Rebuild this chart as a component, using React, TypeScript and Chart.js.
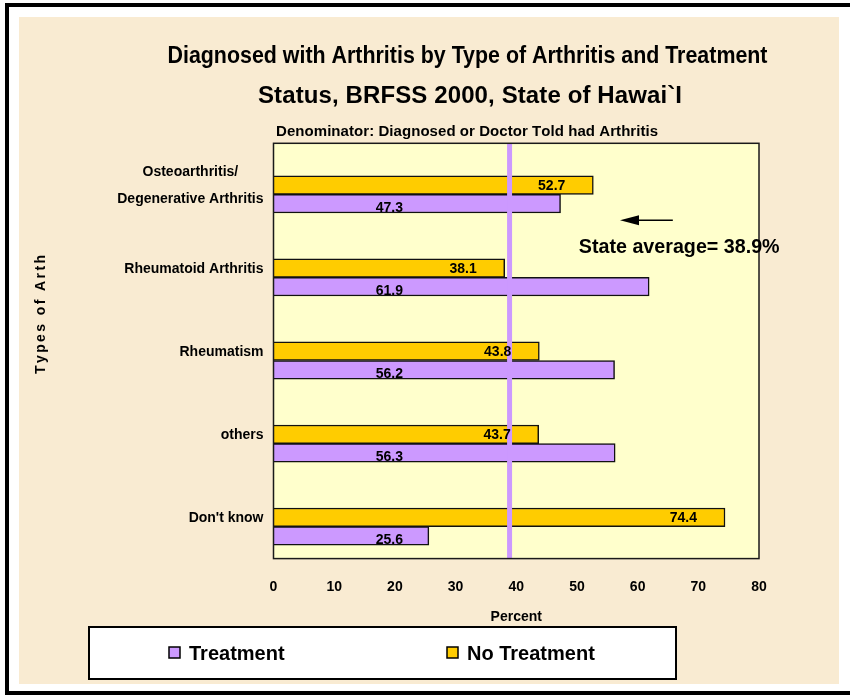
import React, { useEffect, useRef } from 'react';
import { Chart, registerables } from 'chart.js';

Chart.register(...registerables);

// ---------- data ----------
const categoryLabels: string[][] = [
  ['Osteoarthritis/', 'Degenerative Arthritis'],
  ['Rheumatoid Arthritis'],
  ['Rheumatism'],
  ['others'],
  ["Don't know"],
];
const treatment = [47.3, 61.9, 56.2, 56.3, 25.6];
const noTreatment = [52.7, 38.1, 43.8, 43.7, 74.4];
const stateAverage = 38.9;
const xMin = 0;
const xMax = 80;
const xStep = 10;

const titleLine1 = 'Diagnosed with Arthritis by Type of Arthritis and Treatment';
const titleLine2 = 'Status, BRFSS 2000, State of Hawai`I';
const subtitle = 'Denominator: Diagnosed or Doctor Told had Arthritis';
const yTitle = 'Types of Arth';
const xTitle = 'Percent';
const avgText = 'State average= 38.9%';
const legendTreatment = 'Treatment';
const legendNoTreatment = 'No Treatment';

// ---------- styles ----------
const FF = '"Liberation Sans", Arial, Helvetica, sans-serif';
const YELLOW = '#FFCC00';
const PURPLE = '#CC99FF';
const PLOT_BG = '#FFFFCC';
const PARCHMENT = '#F9EBD2';

// bar-index axis range (bars sit slightly below the category centres, as in the source)
const Y_MIN = -0.615;
const Y_MAX = 4.385;

function fitText(ctx: CanvasRenderingContext2D, text: string, cx: number, capCenter: number, size: number, width: number) {
  ctx.save();
  ctx.font = `bold ${size}px ${FF}`;
  ctx.fillStyle = '#000';
  ctx.textBaseline = 'alphabetic';
  const base = capCenter + size * 0.358;
  const w = ctx.measureText(text).width;
  if (w >= width) {
    ctx.translate(cx, base);
    ctx.scale(width / w, 1);
    ctx.textAlign = 'center';
    ctx.fillText(text, 0, 0);
  } else {
    const chars = Array.from(text);
    const extra = (width - w) / Math.max(1, chars.length - 1);
    let x = cx - width / 2;
    ctx.textAlign = 'left';
    for (const ch of chars) {
      ctx.fillText(ch, x, base);
      x += ctx.measureText(ch).width + extra;
    }
  }
  ctx.restore();
}

const decor = {
  id: 'decor',
  beforeDraw(chart: any) {
    const ctx = chart.ctx as CanvasRenderingContext2D;
    ctx.save();
    ctx.fillStyle = '#FFFFFF';
    ctx.fillRect(0, 0, chart.width, chart.height);
    // parchment
    ctx.fillStyle = PARCHMENT;
    ctx.fillRect(19, 17, 820, 667);
    // black frame
    ctx.fillStyle = '#000';
    ctx.fillRect(5, 3, 845, 4);
    ctx.fillRect(5, 3, 4, 692);
    ctx.fillRect(5, 691, 845, 4);
    ctx.restore();
  },
  beforeDatasetsDraw(chart: any) {
    const { ctx, chartArea: a } = chart;
    ctx.save();
    ctx.fillStyle = PLOT_BG;
    ctx.fillRect(a.left, a.top, a.right - a.left, a.bottom - a.top);
    ctx.restore();
  },
  afterDatasetsDraw(chart: any) {
    const ctx = chart.ctx as CanvasRenderingContext2D;
    const a = chart.chartArea;
    const xs = chart.scales.x;
    const ys = chart.scales.y;
    const yc = chart.scales.yCat;
    ctx.save();
    // plot border
    ctx.strokeStyle = '#1a1a1a';
    ctx.lineWidth = 1.5;
    ctx.strokeRect(a.left, a.top, a.right - a.left, a.bottom - a.top);

    // data labels
    ctx.font = `bold 14px ${FF}`;
    ctx.fillStyle = '#000';
    ctx.textBaseline = 'middle';
    const metaNo = chart.getDatasetMeta(1);
    metaNo.data.forEach((el: any, i: number) => {
      ctx.textAlign = 'right';
      ctx.fillText(noTreatment[i].toFixed(1), el.x - 28, el.y + 1);
    });
    const metaT = chart.getDatasetMeta(2);
    metaT.data.forEach((el: any, i: number) => {
      ctx.textAlign = 'center';
      ctx.fillText(treatment[i].toFixed(1), xs.getPixelForValue(19.1), el.y + 4);
    });

    // category labels (lines centred within a right-aligned block)
    ctx.font = `bold 14px ${FF}`;
    categoryLabels.forEach((lines, i) => {
      const c = yc.getPixelForValue(i);
      const right = a.left - 10;
      const bw = Math.max(...lines.map((l) => ctx.measureText(l).width));
      const spacing = 27.3;
      lines.forEach((l, k) => {
        const cy = c + (k - (lines.length - 1) / 2) * spacing;
        ctx.textAlign = 'center';
        ctx.textBaseline = 'alphabetic';
        ctx.fillText(l, right - bw / 2, cy + 5);
      });
    });

    // state average annotation
    const ay = ys.getPixelForValue(0.31);
    const tip = xs.getPixelForValue(57.1);
    const tail = xs.getPixelForValue(65.8);
    ctx.strokeStyle = '#000';
    ctx.lineWidth = 1.5;
    ctx.beginPath();
    ctx.moveTo(tip + 14, ay);
    ctx.lineTo(tail, ay);
    ctx.stroke();
    ctx.fillStyle = '#000';
    ctx.beginPath();
    ctx.moveTo(tip, ay);
    ctx.lineTo(tip + 19, ay - 5);
    ctx.lineTo(tip + 19, ay + 5);
    ctx.closePath();
    ctx.fill();
    const tLeft = xs.getPixelForValue(50.3);
    const tRight = xs.getPixelForValue(83.4);
    fitText(ctx, avgText, (tLeft + tRight) / 2, ys.getPixelForValue(0.62), 21, tRight - tLeft);
    ctx.restore();
  },
  afterDraw(chart: any) {
    const ctx = chart.ctx as CanvasRenderingContext2D;
    ctx.save();
    // titles
    fitText(ctx, titleLine1, 467.5, 54, 24, 600);
    fitText(ctx, titleLine2, 470, 94, 24, 424);
    fitText(ctx, subtitle, 466.5, 130.5, 15, 381);

    // y axis title (rotated, letter-spaced)
    ctx.save();
    ctx.translate(40, 315);
    ctx.rotate(-Math.PI / 2);
    fitText(ctx, yTitle, 0, 0, 14, 118);
    ctx.restore();

    // legend box
    ctx.fillStyle = '#FFFFFF';
    ctx.fillRect(89, 627, 587, 52);
    ctx.strokeStyle = '#000';
    ctx.lineWidth = 2;
    ctx.strokeRect(89, 627, 587, 52);
    const items = [
      { label: legendTreatment, color: PURPLE, x: 169 },
      { label: legendNoTreatment, color: YELLOW, x: 447 },
    ];
    ctx.font = `bold 20px ${FF}`;
    ctx.textAlign = 'left';
    ctx.textBaseline = 'alphabetic';
    items.forEach((it) => {
      ctx.fillStyle = it.color;
      ctx.fillRect(it.x, 647, 11, 11);
      ctx.strokeStyle = '#000';
      ctx.lineWidth = 1.5;
      ctx.strokeRect(it.x, 647, 11, 11);
      ctx.fillStyle = '#000';
      ctx.fillText(it.label, it.x + 20, 660);
    });
    ctx.restore();
  },
};

export default function App() {
  const ref = useRef<HTMLCanvasElement>(null);
  useEffect(() => {
    const canvas = ref.current!;
    const chart = new Chart(canvas, {
      type: 'bar',
      data: {
        datasets: [
          {
            type: 'line',
            label: 'State average',
            data: [
              { x: stateAverage, y: Y_MIN },
              { x: stateAverage, y: Y_MAX },
            ],
            borderColor: PURPLE,
            borderWidth: 5,
            pointRadius: 0,
            xAxisID: 'x',
            yAxisID: 'y',
          } as any,
          {
            type: 'bar',
            label: legendNoTreatment,
            data: noTreatment.map((v, i) => ({ x: v, y: i })),
            backgroundColor: YELLOW,
            borderColor: '#111',
            borderWidth: 1.5,
            barThickness: 18.6,
            xAxisID: 'x',
            yAxisID: 'y',
          },
          {
            type: 'bar',
            label: legendTreatment,
            data: treatment.map((v, i) => ({ x: v, y: i })),
            backgroundColor: PURPLE,
            borderColor: '#111',
            borderWidth: 1.5,
            barThickness: 18.6,
            xAxisID: 'x',
            yAxisID: 'y',
          },
        ],
      },
      options: {
        indexAxis: 'y',
        responsive: false,
        animation: false,
        devicePixelRatio: 1,
        layout: { padding: { left: 273.5, right: 91, top: 143.3, bottom: 72.6 } },
        plugins: {
          legend: { display: false },
          tooltip: { enabled: false },
          title: { display: false },
        },
        scales: {
          x: {
            type: 'linear',
            position: 'bottom',
            min: xMin,
            max: xMax,
            offset: false,
            ticks: {
              stepSize: xStep,
              padding: 20,
              color: '#000',
              maxRotation: 0,
              font: { family: FF, size: 14, weight: 'bold' },
            },
            grid: { display: false, drawTicks: false },
            border: { display: false },
            title: {
              display: true,
              text: xTitle,
              color: '#000',
              font: { family: FF, size: 14, weight: 'bold' },
              padding: { top: -6.8, bottom: 0 },
            },
          },
          y: {
            type: 'linear',
            min: Y_MIN,
            max: Y_MAX,
            reverse: true,
            offset: false,
            display: false,
          },
          yCat: {
            type: 'category',
            axis: 'y',
            offset: true,
            labels: categoryLabels.map((l) => l.join(' ')),
            display: false,
          },
        },
      } as any,
      plugins: [decor],
    });
    return () => chart.destroy();
  }, []);
  return (
    <div style={{ position: 'fixed', left: 0, top: 0, width: 850, height: 698 }}>
      <canvas ref={ref} width={850} height={698} style={{ display: 'block', width: 850, height: 698 }} />
    </div>
  );
}
